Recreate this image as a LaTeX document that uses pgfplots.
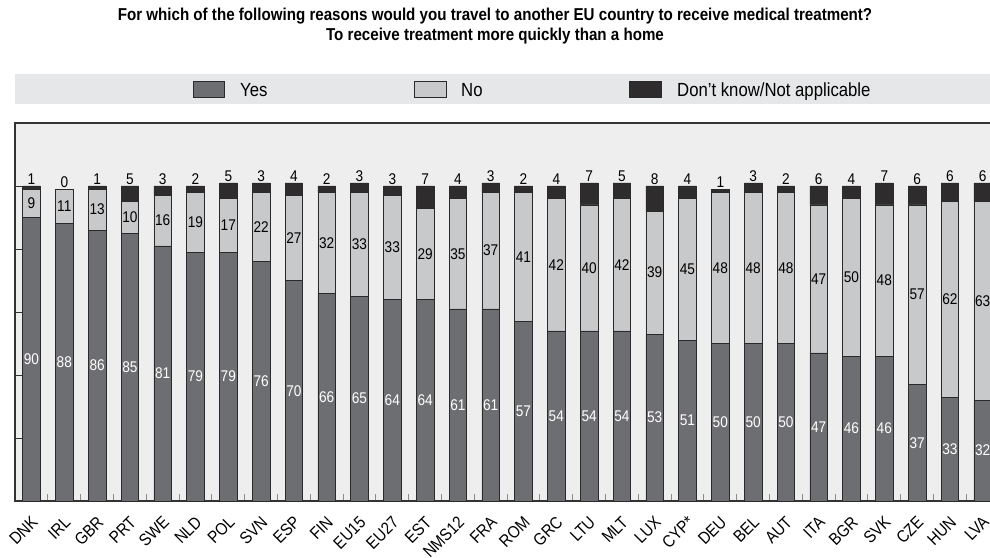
\documentclass[border=0pt]{standalone}
\usepackage{fontspec}
\setmainfont{Liberation Sans}[FakeStretch=0.88]
\usepackage{pgfplots}
\usepackage{pgfplotstable}
\pgfplotsset{compat=1.18}
\definecolor{yescol}{HTML}{6D6E71}
\definecolor{nocol}{HTML}{C8C9CB}
\definecolor{dkcol}{HTML}{2F2C2D}
\definecolor{plotbg}{HTML}{EEEEEE}
\definecolor{legbg}{HTML}{E6E7E8}
\definecolor{edge}{HTML}{2A2A2A}

\pgfplotstableread{
x name yes no dk
0 DNK 90 9 1
1 IRL 88 11 0
2 GBR 86 13 1
3 PRT 85 10 5
4 SWE 81 16 3
5 NLD 79 19 2
6 POL 79 17 5
7 SVN 76 22 3
8 ESP 70 27 4
9 FIN 66 32 2
10 EU15 65 33 3
11 EU27 64 33 3
12 EST 64 29 7
13 NMS12 61 35 4
14 FRA 61 37 3
15 ROM 57 41 2
16 GRC 54 42 4
17 LTU 54 40 7
18 MLT 54 42 5
19 LUX 53 39 8
20 CYP* 51 45 4
21 DEU 50 48 1
22 BEL 50 48 3
23 AUT 50 48 2
24 ITA 47 47 6
25 BGR 46 50 4
26 SVK 46 48 7
27 CZE 37 57 6
28 HUN 33 62 6
29 LVA 32 63 6
}\data

\begin{document}
\begin{tikzpicture}
\path[use as bounding box] (0,0) rectangle (990pt,557pt);
% title
\node[font=\bfseries\fontsize{17.2}{19.5}\selectfont, align=center] at (495pt,531pt)
  {For which of the following reasons would you travel to another EU country to receive medical treatment?\\To receive treatment more quickly than a home};
% legend band
\fill[legbg] (15pt,453pt) rectangle (990pt,483pt);
\draw[fill=yescol, draw=edge, line width=0.8pt] (193pt,460pt) rectangle (224pt,476pt);
\node[anchor=base west, inner sep=0pt, font=\fontsize{19}{19}\selectfont] at (240pt,460.5pt) {Yes};
\draw[fill=nocol, draw=edge, line width=0.8pt] (414pt,460pt) rectangle (446pt,476pt);
\node[anchor=base west, inner sep=0pt, font=\fontsize{19}{19}\selectfont] at (461pt,460.5pt) {No};
\draw[fill=dkcol, draw=edge, line width=0.8pt] (629pt,460pt) rectangle (661pt,476pt);
\node[anchor=base west, inner sep=0pt, font=\fontsize{19}{19}\selectfont] at (677pt,460.5pt) {Don’t know/Not applicable};

\begin{axis}[
  at={(15pt,56pt)}, anchor=south west, scale only axis,
  width=977pt, height=378pt,
  xmin=-0.503, xmax=29.284, ymin=0, ymax=120,
  ybar stacked, bar width=17.5pt,
  axis background/.style={fill=plotbg},
  axis line style={draw=black!80, line width=1.4pt},
  tick align=inside, xtick pos=bottom, ytick pos=left,
  major tick length=7pt,
  xtick={0.5,1.5,...,28.5}, xticklabels={},
  xtick style={draw=black!45, line width=0.8pt},
  extra x ticks={0,1,...,29},
  extra x tick labels={DNK,IRL,GBR,PRT,SWE,NLD,POL,SVN,ESP,FIN,EU15,EU27,EST,NMS12,FRA,ROM,GRC,LTU,MLT,LUX,CYP*,DEU,BEL,AUT,ITA,BGR,SVK,CZE,HUN,LVA},
  extra x tick style={major tick length=0pt},
  xticklabel style={xshift=-1pt, yshift=-14pt, rotate=45, anchor=north east, inner sep=0pt, font=\fontsize{17}{17}\selectfont},
  ytick={0,20,...,100}, yticklabels={},
  ytick style={draw=black!80, line width=0.9pt},
]
\addplot[fill=yescol, draw=edge, line width=0.6pt] table[x=x,y=yes]{\data};
\addplot[fill=nocol, draw=edge, line width=0.6pt] table[x=x,y=no]{\data};
\addplot[fill=dkcol, draw=edge, line width=0.6pt] table[x=x,y=dk]{\data};
\end{axis}

\begin{axis}[
  at={(15pt,56pt)}, anchor=south west, scale only axis,
  width=977pt, height=378pt,
  xmin=-0.503, xmax=29.284, ymin=0, ymax=120,
  hide axis, clip=false,
]
\addplot[draw=none, nodes near coords, point meta=explicit symbolic,
  every node near coord/.append style={anchor=center, text=white, inner sep=0pt, font=\fontsize{15.5}{15.5}\selectfont}]
  table[x=x, y expr=\thisrow{yes}/2, meta=yes]{\data};
\addplot[draw=none, nodes near coords, point meta=explicit symbolic,
  every node near coord/.append style={anchor=center, text=black, inner sep=0pt, font=\fontsize{15.5}{15.5}\selectfont}]
  table[x=x, y expr=\thisrow{yes}+\thisrow{no}/2, meta=no]{\data};
\addplot[draw=none, nodes near coords, point meta=explicit symbolic,
  every node near coord/.append style={anchor=south, text=black, inner sep=1pt, font=\fontsize{15.5}{15.5}\selectfont}]
  table[x=x, y expr=\thisrow{yes}+\thisrow{no}+\thisrow{dk}, meta=dk]{\data};
\end{axis}
\end{tikzpicture}
\end{document}
